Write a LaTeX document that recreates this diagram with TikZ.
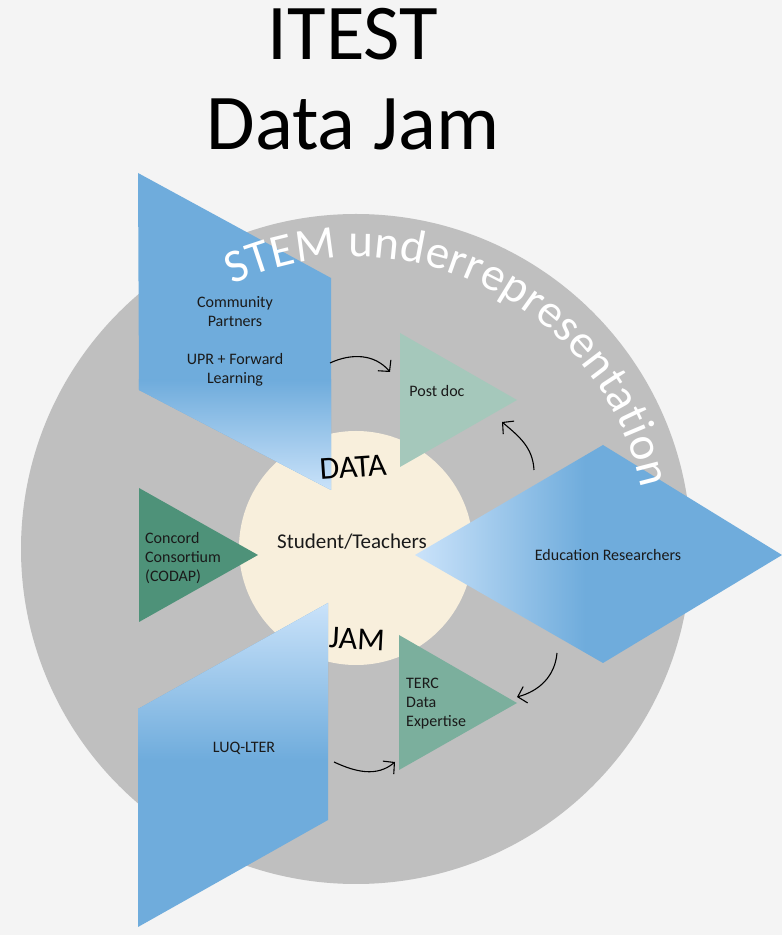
\documentclass[tikz,border=0pt]{standalone}
\usepackage{fontspec}
\setmainfont{Carlito}
\usetikzlibrary{decorations.text,arrows.meta}
\definecolor{bg}{HTML}{F4F4F4}
\definecolor{ring}{HTML}{BFBFBF}
\definecolor{cream}{HTML}{F8EFDC}
\definecolor{blueA}{HTML}{6FACDC}
\definecolor{blueL}{HTML}{CBE3FA}
\definecolor{postdoc}{HTML}{A5C8BB}
\definecolor{terc}{HTML}{7BAF9D}
\definecolor{concord}{HTML}{4E9279}
\definecolor{ink}{HTML}{1A1A1A}
\begin{document}
\begin{tikzpicture}[x=1pt,y=1pt,
  lbl/.style={inner sep=0pt, text=ink, font=\fontsize{16}{19}\selectfont},
  big/.style={inner sep=0pt, text=black, font=\fontsize{79}{90}\selectfont},
  hand/.style={inner sep=0pt, text=black, font=\fontsize{32}{36}\selectfont},
  conn/.style={line width=1.1pt, -{Straight Barb[length=8pt,width=17pt,line width=1.1pt]}},
]
\path[fill=bg] (0,0) rectangle (782,935);
\useasboundingbox (0,0) rectangle (782,935);
% circles
\fill[ring] (356,386) circle[radius=335];
\fill[cream] (356,387) circle[radius=117];
% top-left parallelogram
\begin{scope}
\clip (138,762) -- (331,657) -- (331,445) -- (139,545) -- cycle;
\fill[blueA] (130,440) rectangle (340,770);
\shade[top color=blueA, bottom color=blueL] (130,443) rectangle (340,555);
\end{scope}
% bottom-left parallelogram
\begin{scope}
\clip (328,332) -- (328,115) -- (138,8) -- (138,226) -- cycle;
\fill[blueA] (130,0) rectangle (340,340);
\shade[top color=blueL, bottom color=blueA] (130,175) rectangle (340,334);
\end{scope}
% right diamond
\begin{scope}
\clip (415,380) -- (603,490) -- (782,380) -- (603,272) -- cycle;
\shade[left color=blueL, right color=blueA] (415,270) rectangle (585,492);
\fill[blueA] (585,270) rectangle (782,492);
\end{scope}
% triangles
\fill[postdoc] (400,602) -- (517,535) -- (400,468) -- cycle;
\fill[terc] (399,300) -- (517,232) -- (399,165) -- cycle;
\fill[concord] (139,447) -- (258,380) -- (139,313) -- cycle;
% arc text
\path[decorate, decoration={text along path, text color=white, text align=fit to path,
  text={|\fontsize{47}{47}\selectfont|STEM underrepresentation}}]
  (356,386) ++(115:292) arc[start angle=115,end angle=12,radius=292];
% title
\node[big, anchor=base] (t1) at (353,875) {ITEST};
\node[big, anchor=base] (t2) at (353,785) {Data Jam};
% labels
\node[lbl, align=center] (comm) at (235,593.5) {Community\\Partners\\[19pt]UPR + Forward\\Learning};
\node[lbl, anchor=base] (post) at (437,538) {Post doc};
\node[inner sep=0pt, text=ink, font=\fontsize{21}{25}\selectfont, anchor=base] (stud) at (352,386) {Student/Teachers};
\node[lbl, anchor=base] (edu) at (608,374) {Education Researchers};
\node[lbl, align=left, anchor=west] (conc) at (145,376.6) {Concord\\Consortium\\(CODAP)};
\node[lbl, align=left, anchor=west] (terc) at (406,231.4) {TERC\\Data\\Expertise};
\node[lbl, anchor=base] (luq) at (244,182) {LUQ-LTER};
\node[hand, rotate=4] (data) at (353,468) {DATA};
\node[hand, rotate=-3] (jam) at (357,296) {JAM};
% curved arrows
\coordinate (a1s) at (330,572); \coordinate (a1e) at (390,563);
\coordinate (a2s) at (534,465); \coordinate (a2e) at (502,513);
\coordinate (a3s) at (557,282); \coordinate (a3e) at (517,238);
\coordinate (a4s) at (334,173); \coordinate (a4e) at (395,173);
\draw[conn] (a1s) to[out=25,in=130] (a1e);
\draw[conn] (a2s) to[out=93,in=-40] (a2e);
\draw[conn] (a3s) to[out=-95,in=15] (a3e);
\draw[conn] (a4s) to[out=-25,in=-140] (a4e);
\end{tikzpicture}
\end{document}
